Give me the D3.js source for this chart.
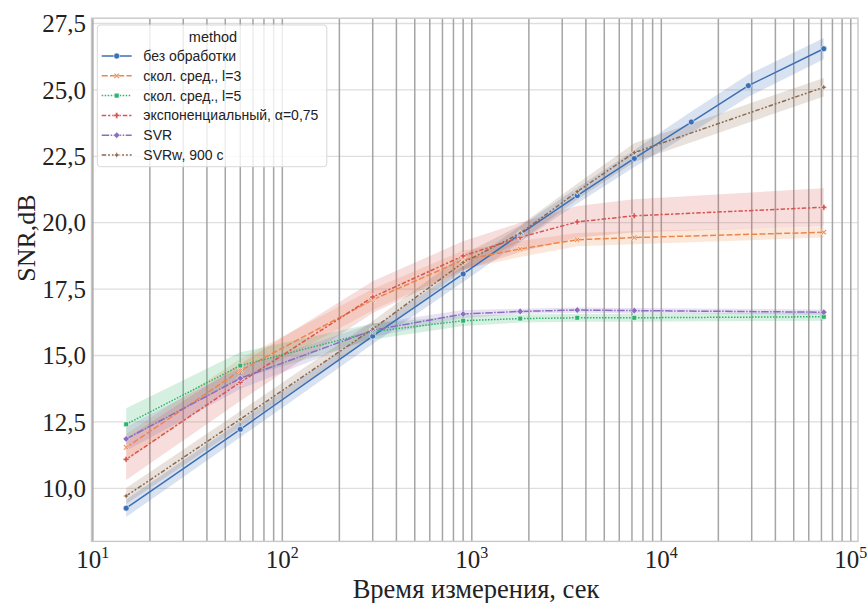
<!DOCTYPE html>
<html><head><meta charset="utf-8">
<script src="https://cdn.jsdelivr.net/npm/d3@7"></script>
<style>body{margin:0;background:#fff}</style>
</head><body><svg id="c" width="867" height="603"></svg>
<script>
// ---- data ----
const methods = ["без обработки", "скол. сред., l=3", "скол. сред., l=5", "экспоненциальный, α=0,75", "SVR", "SVRw, 900 с"];
const timesFull = [15, 60, 300, 900, 1800, 3600, 7200, 14400, 28800, 72000];
const times = [15, 60, 300, 900, 1800, 3600, 7200, 72000];
const rawMean = [9.25, 12.22, 15.73, 18.07, 19.57, 21.02, 22.42, 23.79, 25.16, 26.55];
const rawCI = [0.33, 0.3, 0.3, 0.3, 0.3, 0.3, 0.32, 0.4, 0.42, 0.4];
const ma3Mean = [11.54, 14.43, 17.1, 18.6, 19.01, 19.36, 19.44, 19.64];
const ma3CI = [0.5, 0.45, 0.4, 0.35, 0.3, 0.25, 0.25, 0.2];
const ma5Mean = [12.41, 14.62, 15.9, 16.31, 16.39, 16.42, 16.42, 16.46];
const ma5CI = [0.6, 0.5, 0.3, 0.2, 0.15, 0.15, 0.15, 0.15];
const expMean = [11.09, 13.99, 17.2, 18.75, 19.45, 20.03, 20.26, 20.58];
const expCI = [0.78, 0.7, 0.6, 0.55, 0.55, 0.6, 0.62, 0.72];
const svrMean = [11.86, 14.14, 15.95, 16.56, 16.66, 16.71, 16.69, 16.63];
const svrCI = [0.45, 0.4, 0.25, 0.15, 0.1, 0.1, 0.1, 0.1];
const svrwMean = [9.71, 12.6, 16.0, 18.5, 19.6, 21.17, 22.64, 25.10];
const svrwCI = [0.3, 0.3, 0.3, 0.3, 0.3, 0.3, 0.35, 0.35];
const yTicks = [10, 12.5, 15, 17.5, 20, 22.5, 25, 27.5];
const xTicks = [10, 100, 1000, 10000, 100000];

const colors = ["#3b6fb6", "#ee854a", "#2eb36a", "#d9534f", "#8a6cc0", "#8c6a4f"];
const dashes = [null, "6,2.25", "1.5,1.5", "4.5,1.9,2.25,1.9", "7.5,1.5,1.5,1.5", "4.5,1.9,1.9,1.9,1.9,1.9"];

const series = [
  {x: timesFull, m: rawMean, ci: rawCI},
  {x: times, m: ma3Mean, ci: ma3CI},
  {x: times, m: ma5Mean, ci: ma5CI},
  {x: times, m: expMean, ci: expCI},
  {x: times, m: svrMean, ci: svrCI},
  {x: times, m: svrwMean, ci: svrwCI}
].map((s, i) => ({name: methods[i], color: colors[i], dash: dashes[i],
   pts: s.x.map((t, j) => ({t, m: s.m[j], lo: s.m[j] - s.ci[j], hi: s.m[j] + s.ci[j]}))}));

// ---- scales ----
const L = 91.5, R = 858, T = 18.2, B = 541.4;
const x = d3.scaleLog().domain([Math.pow(10, 0.993), Math.pow(10, 5.038)]).range([L, R]);
const y = d3.scaleLinear().domain([8.0, 27.7]).range([B, T]);
const SERIF = "Liberation Serif, Times New Roman, serif";
const SANS = "Liberation Sans, Arial, sans-serif";

const svg = d3.select("#c");
svg.append("rect").attr("width", 867).attr("height", 603).attr("fill", "#fff");

const g = svg.append("g");
svg.append("clipPath").attr("id", "clip").append("rect")
  .attr("x", L).attr("y", T).attr("width", R - L).attr("height", B - T);

// horizontal grid
g.selectAll(".hg").data(yTicks).join("line")
  .attr("x1", L).attr("x2", R).attr("y1", d => y(d)).attr("y2", d => y(d))
  .attr("stroke", "#dedede").attr("stroke-width", 1.3);

// vertical grid (major+minor)
const vTicks = [];
for (let e = 1; e <= 5; e++) for (let k = 1; k <= 9; k++) {
  const v = k * Math.pow(10, e);
  if (v <= 100000) vTicks.push(v);
}
g.selectAll(".vg").data(vTicks).join("line")
  .attr("x1", d => x(d)).attr("x2", d => x(d)).attr("y1", T).attr("y2", B)
  .attr("stroke", "#a5a5a5").attr("stroke-width", 1.5);

// bands
const plot = svg.append("g").attr("clip-path", "url(#clip)");
const area = d3.area().x(d => x(d.t)).y0(d => y(d.lo)).y1(d => y(d.hi));
plot.selectAll(".band").data(series).join("path")
  .attr("d", s => area(s.pts)).attr("fill", s => s.color).attr("fill-opacity", 0.2);

const line = d3.line().x(d => x(d.t)).y(d => y(d.m));
plot.selectAll(".ln").data(series).join("path")
  .attr("d", s => line(s.pts)).attr("fill", "none").attr("stroke", s => s.color)
  .attr("stroke-width", 1.5).attr("stroke-dasharray", s => s.dash);

// marker paths
function markerPath(i, r) {
  if (i === 0) return d3.symbol(d3.symbolCircle, Math.PI * r * r)();
  if (i === 1) { // X
    const a = r * 0.95, w = r * 0.35;
    const pts = [[-a, -a + w], [-a + w, -a], [0, -w], [a - w, -a], [a, -a + w], [w, 0], [a, a - w], [a - w, a], [0, w], [-a + w, a], [-a, a - w], [-w, 0]];
    return "M" + pts.map(p => p.join(",")).join("L") + "Z";
  }
  if (i === 2) { const a = r * 0.8; return `M${-a},${-a}H${a}V${a}H${-a}Z`; }
  if (i === 3) { // P filled plus
    const a = r, w = r * 0.38;
    return `M${-w},${-a}H${w}V${-w}H${a}V${w}H${w}V${a}H${-w}V${w}H${-a}V${-w}H${-w}Z`;
  }
  if (i === 4) { const a = r * 1.1; return `M0,${-a}L${a},0L0,${a}L${-a},0Z`; }
  const a = r * 1.15, s = r * 0.35;
  return `M0,${-a}L${s},${-s}L${a},0L${s},${s}L0,${a}L${-s},${s}L${-a},0L${-s},${-s}Z`;
}

series.forEach((s, i) => {
  plot.selectAll(null).data(s.pts).join("path")
    .attr("transform", d => `translate(${x(d.t)},${y(d.m)})`)
    .attr("d", markerPath(i, 3)).attr("fill", s.color)
    .attr("stroke", "#fff").attr("stroke-width", 0.6);
});

// spines
svg.append("rect").attr("x", L).attr("y", T).attr("width", R - L).attr("height", B - T)
  .attr("fill", "none").attr("stroke", "#c8c8c8").attr("stroke-width", 1.4);

// y tick labels
svg.selectAll(".yl").data(yTicks).join("text")
  .attr("x", 86).attr("y", d => y(d)).attr("dy", "0.35em").attr("text-anchor", "end")
  .attr("font-family", SERIF).attr("font-size", 25)
  .attr("fill", "#222").text(d => d3.format(".1f")(d).replace(".", ","));

// x tick labels with superscripts
xTicks.forEach(v => {
  const t = svg.append("text").attr("x", x(v)).attr("y", 568).attr("text-anchor", "middle")
    .attr("font-family", SERIF).attr("font-size", 25).attr("fill", "#222");
  t.append("tspan").text("10");
  t.append("tspan").attr("dy", -10).attr("font-size", 16).text(Math.round(Math.log10(v)));
});

// axis labels
svg.append("text").attr("x", 476).attr("y", 598).attr("text-anchor", "middle")
  .attr("font-family", SERIF).attr("font-size", 26.5).attr("fill", "#222")
  .text("Время измерения, сек");
svg.append("text").attr("transform", "translate(35,238) rotate(-90)").attr("text-anchor", "middle")
  .attr("font-family", SERIF).attr("font-size", 26).attr("fill", "#222")
  .text("SNR,dB");

// legend
const lg = svg.append("g");
lg.append("rect").attr("x", 97.3).attr("y", 25).attr("width", 229.5).attr("height", 141.7).attr("rx", 3)
  .attr("fill", "#fff").attr("fill-opacity", 0.8).attr("stroke", "#d8d8d8").attr("stroke-width", 1);
lg.append("text").attr("x", 213).attr("y", 37).attr("dy", "0.35em").attr("text-anchor", "middle")
  .attr("font-family", SANS).attr("font-size", 14.5).attr("fill", "#222").text("method");
series.forEach((s, i) => {
  const yy = 56 + i * 19.8;
  lg.append("line").attr("x1", 101.7).attr("x2", 131.7).attr("y1", yy).attr("y2", yy)
    .attr("stroke", s.color).attr("stroke-width", 1.5).attr("stroke-dasharray", s.dash);
  lg.append("path").attr("transform", `translate(116.7,${yy})`).attr("d", markerPath(i, 3))
    .attr("fill", s.color).attr("stroke", "#fff").attr("stroke-width", 0.6);
  lg.append("text").attr("x", 143.3).attr("y", yy).attr("dy", "0.35em")
    .attr("font-family", SANS).attr("font-size", 14).attr("fill", "#222").text(s.name);
});
</script></body></html>
